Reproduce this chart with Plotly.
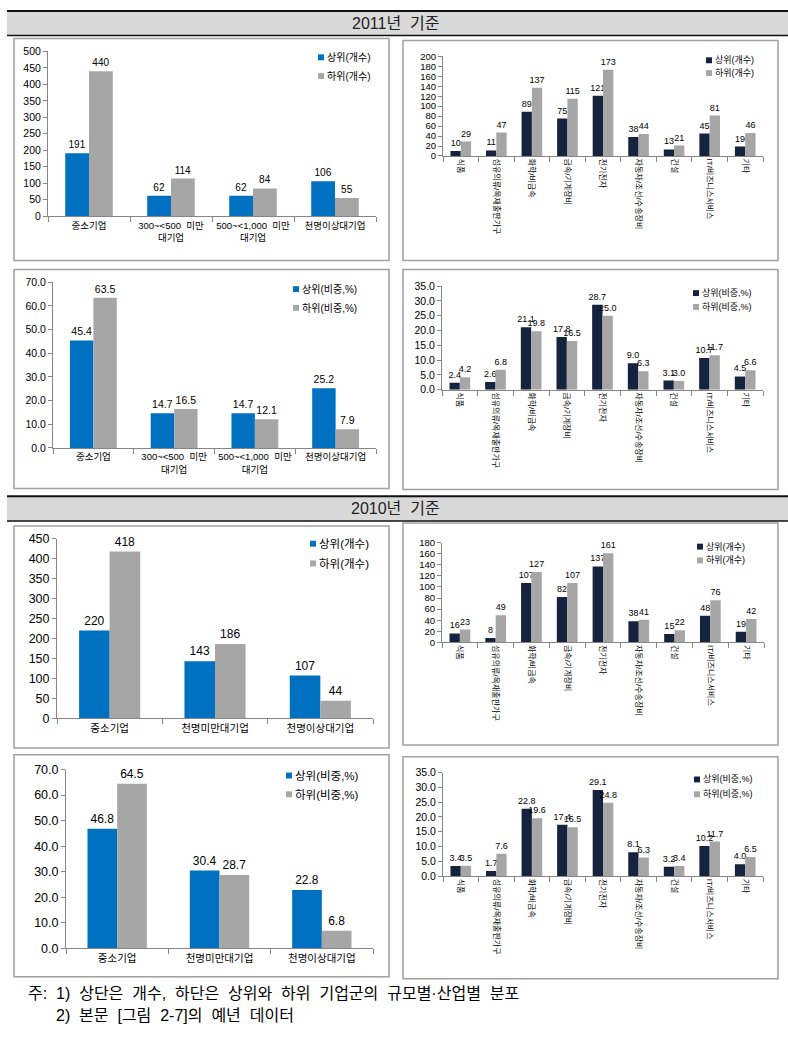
import plotly.graph_objects as go

W, H = 788, 1041
FONT = "Liberation Sans, Noto Sans CJK KR, sans-serif"

# ---------------- data ----------------
size_cats_2011 = ["중소기업", "300~<500  미만<br>대기업", "500~<1,000  미만<br>대기업", "천명이상대기업"]
size_cats_2010 = ["중소기업", "천명미만대기업", "천명이상대기업"]
ind_cats = ["식품", "섬유의류/목재출판가구", "화학/비금속", "금속/기계장비", "전기전자",
            "자동차/조선/수송장비", "건설", "IT/비즈니스서비스", "기타"]

names_cnt = ["상위(개수)", "하위(개수)"]
names_pct = ["상위(비중,%)", "하위(비중,%)"]

cnt_size_2011_up = [191, 62, 62, 106]
cnt_size_2011_lo = [440, 114, 84, 55]
cnt_ind_2011_up = [10, 11, 89, 75, 121, 38, 13, 45, 19]
cnt_ind_2011_lo = [29, 47, 137, 115, 173, 44, 21, 81, 46]
pct_size_2011_up = [45.4, 14.7, 14.7, 25.2]
pct_size_2011_lo = [63.5, 16.5, 12.1, 7.9]
pct_ind_2011_up = [2.4, 2.6, 21.1, 17.8, 28.7, 9.0, 3.1, 10.7, 4.5]
pct_ind_2011_lo = [4.2, 6.8, 19.8, 16.5, 25.0, 6.3, 3.0, 11.7, 6.6]

cnt_size_2010_up = [220, 143, 107]
cnt_size_2010_lo = [418, 186, 44]
cnt_ind_2010_up = [16, 8, 107, 82, 137, 38, 15, 48, 19]
cnt_ind_2010_lo = [23, 49, 127, 107, 161, 41, 22, 76, 42]
pct_size_2010_up = [46.8, 30.4, 22.8]
pct_size_2010_lo = [64.5, 28.7, 6.8]
pct_ind_2010_up = [3.4, 1.7, 22.8, 17.4, 29.1, 8.1, 3.2, 10.2, 4.0]
pct_ind_2010_lo = [3.5, 7.6, 19.6, 16.5, 24.8, 6.3, 3.4, 11.7, 6.5]

headers = ["2011년 \u00a0기준", "2010년 \u00a0기준"]
notes = ["주: \u00a01) \u00a0상단은 \u00a0개수, \u00a0하단은 \u00a0상위와 \u00a0하위 \u00a0기업군의 \u00a0규모별·산업별 \u00a0분포",
         "2) \u00a0본문 \u00a0[그림 \u00a02-7]의 \u00a0예년 \u00a0데이터"]

# ---------------- styles ----------------
BLUE = "#0070C0"
NAVY = "#15233F"
GRAY = "#A6A6A6"
AX = "#868686"
BOX = "#A0A0A0"


def px(x):
    return x / W


def py(y):
    return 1 - y / H


panels = [
    dict(cats=size_cats_2011, up=cnt_size_2011_up, lo=cnt_size_2011_lo, names=names_cnt, c_up=BLUE,
         ymax=500, dtick=50, yfmt="d", tt="%{y}", box=(14, 32, 389, 257), plot=(48, 45, 376, 212),
         leg=(318, 51, 70), tick_fs=10.5, lab_fs=10, cat_fs=9.5, leg_fs=10, angle=0),
    dict(cats=ind_cats, up=cnt_ind_2011_up, lo=cnt_ind_2011_lo, names=names_cnt, c_up=NAVY,
         ymax=200, dtick=20, yfmt="d", tt="%{y}", box=(403, 34, 778, 257), plot=(443, 50, 763, 151),
         leg=(706, 54, 67), tick_fs=9.5, lab_fs=9, cat_fs=8, leg_fs=9, angle=90),
    dict(cats=size_cats_2011, up=pct_size_2011_up, lo=pct_size_2011_lo, names=names_pct, c_up=BLUE,
         ymax=70, dtick=10, yfmt=".1f", tt="%{y:.1f}", box=(14, 266, 389, 488), plot=(53, 279, 376, 447),
         leg=(293, 286, 305), tick_fs=10.5, lab_fs=10.5, cat_fs=9.5, leg_fs=10, angle=0),
    dict(cats=ind_cats, up=pct_ind_2011_up, lo=pct_ind_2011_lo, names=names_pct, c_up=NAVY,
         ymax=35, dtick=5, yfmt=".1f", tt="%{y:.1f}", box=(403, 266, 778, 489), plot=(442, 283, 763, 388),
         leg=(693, 290, 304), tick_fs=10.5, lab_fs=9, cat_fs=8, leg_fs=9, angle=90),
    dict(cats=size_cats_2010, up=cnt_size_2010_up, lo=cnt_size_2010_lo, names=names_cnt, c_up=BLUE,
         ymax=450, dtick=50, yfmt="d", tt="%{y}", box=(14, 526, 389, 751), plot=(57, 539, 373, 721),
         leg=(310, 544, 564), tick_fs=12.5, lab_fs=12, cat_fs=10.5, leg_fs=11.5, angle=0),
    dict(cats=ind_cats, up=cnt_ind_2010_up, lo=cnt_ind_2010_lo, names=names_cnt, c_up=NAVY,
         ymax=180, dtick=20, yfmt="d", tt="%{y}", box=(403, 523, 778, 748), plot=(442, 543, 764, 644),
         leg=(697, 547, 561), tick_fs=9.5, lab_fs=9, cat_fs=8, leg_fs=9, angle=90),
    dict(cats=size_cats_2010, up=pct_size_2010_up, lo=pct_size_2010_lo, names=names_pct, c_up=BLUE,
         ymax=70, dtick=10, yfmt=".1f", tt="%{y:.1f}", box=(14, 758, 389, 983), plot=(66, 773, 373, 954),
         leg=(286, 779, 798), tick_fs=12.5, lab_fs=12, cat_fs=10.5, leg_fs=11.5, angle=0),
    dict(cats=ind_cats, up=pct_ind_2010_up, lo=pct_ind_2010_lo, names=names_pct, c_up=NAVY,
         ymax=35, dtick=5, yfmt=".1f", tt="%{y:.1f}", box=(403, 760, 778, 985), plot=(443, 776, 763, 881),
         leg=(694, 783, 798), tick_fs=10.5, lab_fs=9, cat_fs=8, leg_fs=9, angle=90),
]

fig = go.Figure()
layout = {}
shapes = []
annotations = []

for i, p in enumerate(panels, start=1):
    sfx = "" if i == 1 else str(i)
    xa, ya = "x" + sfx, "y" + sfx
    for vals, name, color in ((p["up"], p["names"][0], p["c_up"]), (p["lo"], p["names"][1], GRAY)):
        fig.add_trace(go.Bar(
            x=p["cats"], y=vals, name=name, xaxis=xa, yaxis=ya,
            marker=dict(color=color, line=dict(width=0)),
            texttemplate=p["tt"], textposition="outside",
            textfont=dict(size=p["lab_fs"], color="black", family=FONT),
            cliponaxis=False, constraintext="none", showlegend=False,
        ))
    x0, y0, x1, y1 = p["plot"]
    layout["xaxis" + sfx] = dict(
        domain=[px(x0), px(x1)], anchor=ya, type="category", tickson="boundaries",
        ticks="outside", ticklen=5, tickcolor=AX, showline=True, linecolor=AX, linewidth=1,
        tickangle=p["angle"], tickfont=dict(size=p["cat_fs"], color="black", family=FONT),
        showgrid=False, fixedrange=True,
    )
    layout["yaxis" + sfx] = dict(
        domain=[py(y1), py(y0)], anchor=xa, range=[0, p["ymax"]], tick0=0, dtick=p["dtick"],
        tickformat=p["yfmt"], ticks="outside", ticklen=4, tickcolor=AX, showline=True,
        linecolor=AX, linewidth=1, showgrid=False, zeroline=False,
        tickfont=dict(size=p["tick_fs"], color="black", family=FONT), fixedrange=True,
    )
    bx0, by0, bx1, by1 = p["box"]
    shapes.append(dict(type="rect", xref="paper", yref="paper", x0=px(bx0), x1=px(bx1),
                       y0=py(by1), y1=py(by0), line=dict(color=BOX, width=1.5), fillcolor="rgba(0,0,0,0)"))
    # legend (swatch + label)
    lx, r1, r2 = p["leg"]
    for cy, name, color in ((r1, p["names"][0], p["c_up"]), (r2, p["names"][1], GRAY)):
        shapes.append(dict(type="rect", xref="paper", yref="paper", x0=px(lx), x1=px(lx + 6),
                           y0=py(cy + 3), y1=py(cy - 3), line=dict(width=0), fillcolor=color))
        annotations.append(dict(xref="paper", yref="paper", x=px(lx + 7), y=py(cy), text=name,
                                showarrow=False, xanchor="left", yanchor="middle",
                                font=dict(size=p["leg_fs"], color="black", family=FONT)))

# section header bands
for (top, bot), title in zip(((4, 29), (496, 521)), headers):
    shapes.append(dict(type="rect", xref="paper", yref="paper", x0=px(7), x1=px(788),
                       y0=py(bot), y1=py(top), line=dict(width=0), fillcolor="#D9D9D9"))
    shapes.append(dict(type="line", xref="paper", yref="paper", x0=px(7), x1=px(788),
                       y0=py(top), y1=py(top), line=dict(color="#111111", width=2)))
    shapes.append(dict(type="line", xref="paper", yref="paper", x0=px(7), x1=px(788),
                       y0=py(bot), y1=py(bot), line=dict(color="#111111", width=1.5)))
    annotations.append(dict(xref="paper", yref="paper", x=px(395), y=py((top + bot) / 2), text=title,
                            showarrow=False, xanchor="center", yanchor="middle",
                            font=dict(size=16, color="#222222", family=FONT)))

# footnotes
for (x, y), t in zip(((26, 1000), (54, 1022)), notes):
    annotations.append(dict(xref="paper", yref="paper", x=px(x), y=py(y), text=t, showarrow=False,
                            xanchor="left", yanchor="middle",
                            font=dict(size=16, color="black", family=FONT)))

fig.update_layout(
    width=W, height=H, margin=dict(l=0, r=0, t=0, b=0, pad=0),
    paper_bgcolor="white", plot_bgcolor="white",
    barmode="group", bargap=0.42, bargroupgap=0,
    showlegend=False, font=dict(family=FONT, color="black"),
    shapes=shapes, annotations=annotations, **layout,
)

fig.write_html("out.html", config=dict(displayModeBar=False, staticPlot=True),
               post_script="document.body.style.margin='0';document.body.style.overflow='hidden';")
